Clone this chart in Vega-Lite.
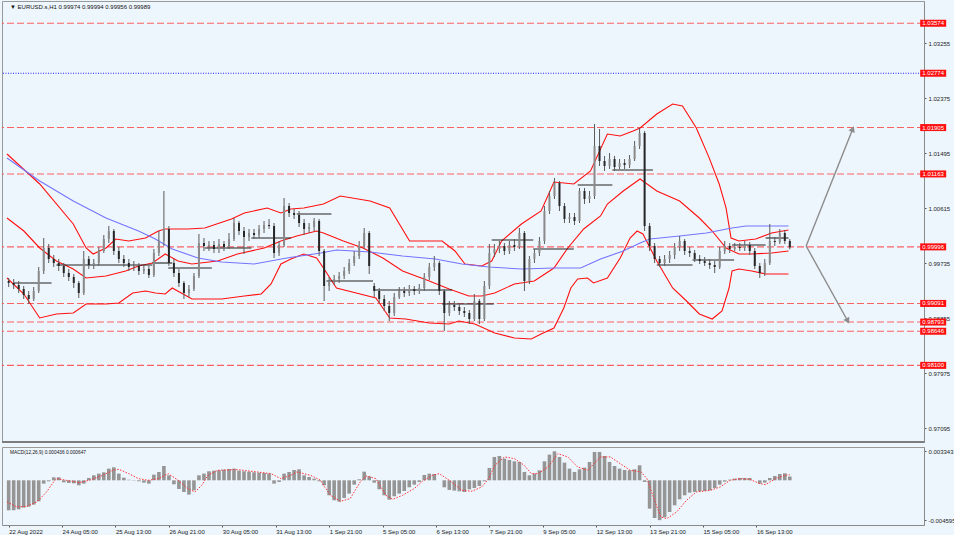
{
"$schema":"https://vega.github.io/schema/vega-lite/v6.json",
"background":"#eef6fd",
"padding":0,
"spacing":2,
"config":{"view":{"stroke":"#9a9a9a","strokeWidth":1},"font":"Liberation Sans","axis":{"labelFont":"Liberation Sans","labelFontSize":6,"labelColor":"#222","domainColor":"#8a8a8a","tickColor":"#555","tickSize":2,"labelPadding":2,"grid":false,"title":null}},
"datasets":{
"candles":[
{"t":0,"o":0.9945,"h":0.99498,"l":0.99354,"c":0.99418,"m":-0.003459},
{"t":3,"o":0.99418,"h":0.99482,"l":0.99322,"c":0.99386,"m":-0.003459},
{"t":6,"o":0.99386,"h":0.9945,"l":0.99258,"c":0.99322,"m":-0.003343},
{"t":9,"o":0.99322,"h":0.9937,"l":0.99162,"c":0.99226,"m":-0.003151},
{"t":12,"o":0.99226,"h":0.9929,"l":0.99082,"c":0.99162,"m":-0.003036},
{"t":15,"o":0.99162,"h":0.99354,"l":0.9913,"c":0.9929,"m":-0.002805},
{"t":18,"o":0.9929,"h":0.99674,"l":0.99258,"c":0.9961,"m":-0.002421},
{"t":21,"o":0.9961,"h":1.00138,"l":0.99562,"c":0.99978,"m":-0.000384},
{"t":24,"o":0.99978,"h":1.00042,"l":0.99738,"c":0.99802,"m":-0.000115},
{"t":27,"o":0.99802,"h":0.99866,"l":0.99674,"c":0.99738,"m":0.000346},
{"t":30,"o":0.99738,"h":0.99802,"l":0.9961,"c":0.9969,"m":0.000346},
{"t":33,"o":0.9969,"h":0.99738,"l":0.99514,"c":0.99578,"m":-0.000231},
{"t":36,"o":0.99578,"h":0.99642,"l":0.9945,"c":0.99514,"m":-0.000307},
{"t":39,"o":0.99514,"h":0.99562,"l":0.99338,"c":0.99418,"m":-0.000346},
{"t":42,"o":0.99418,"h":0.9945,"l":0.99178,"c":0.99258,"m":-0.000576},
{"t":45,"o":0.99258,"h":0.9993,"l":0.99226,"c":0.99802,"m":-0.000384},
{"t":48,"o":0.99802,"h":0.9985,"l":0.99642,"c":0.99706,"m":0.000269},
{"t":51,"o":0.99706,"h":0.99802,"l":0.99642,"c":0.99738,"m":0.000576},
{"t":54,"o":0.99738,"h":0.99994,"l":0.9969,"c":0.9993,"m":0.000769},
{"t":57,"o":0.9993,"h":1.00186,"l":0.99898,"c":1.00122,"m":0.000922},
{"t":60,"o":1.00122,"h":1.0033,"l":1.00058,"c":1.0025,"m":0.001345},
{"t":63,"o":1.0025,"h":1.00282,"l":0.99866,"c":0.9993,"m":0.001499},
{"t":66,"o":0.9993,"h":0.99994,"l":0.99738,"c":0.99802,"m":0.000769},
{"t":69,"o":0.99802,"h":0.99866,"l":0.99674,"c":0.99738,"m":0.000307},
{"t":72,"o":0.99738,"h":0.99802,"l":0.9961,"c":0.99674,"m":0.000077},
{"t":75,"o":0.99674,"h":0.9977,"l":0.9961,"c":0.9969,"m":0.000038},
{"t":78,"o":0.9969,"h":0.99738,"l":0.99546,"c":0.9961,"m":-0.000115},
{"t":81,"o":0.9961,"h":0.99706,"l":0.99562,"c":0.99642,"m":-0.000269},
{"t":84,"o":0.99642,"h":0.9969,"l":0.99498,"c":0.99546,"m":-0.000384},
{"t":87,"o":0.99546,"h":0.99962,"l":0.99514,"c":0.99898,"m":0.000653},
{"t":90,"o":0.99898,"h":1.0025,"l":0.9985,"c":1.0009,"m":0.000961},
{"t":93,"o":1.0009,"h":1.0089,"l":1.0001,"c":1.00282,"m":0.001652},
{"t":96,"o":1.00282,"h":1.0033,"l":0.9969,"c":0.99738,"m":0.000576},
{"t":99,"o":0.99738,"h":0.99802,"l":0.99514,"c":0.99578,"m":-0.000461},
{"t":102,"o":0.99578,"h":0.99642,"l":0.99354,"c":0.99418,"m":-0.000999},
{"t":105,"o":0.99418,"h":0.9945,"l":0.99162,"c":0.99258,"m":-0.001345},
{"t":108,"o":0.99258,"h":0.99386,"l":0.99194,"c":0.99322,"m":-0.001652},
{"t":111,"o":0.99322,"h":0.99578,"l":0.9929,"c":0.9953,"m":-0.001153},
{"t":114,"o":0.9953,"h":1.00202,"l":0.99498,"c":1.00058,"m":0.000576},
{"t":117,"o":1.00058,"h":1.00138,"l":0.9993,"c":1.0001,"m":0.000769},
{"t":120,"o":1.0001,"h":1.0009,"l":0.9993,"c":1.00026,"m":0.001038},
{"t":123,"o":1.00026,"h":1.0009,"l":0.99898,"c":0.99962,"m":0.001114},
{"t":126,"o":0.99962,"h":1.00122,"l":0.99898,"c":1.00042,"m":0.001153},
{"t":129,"o":1.00042,"h":1.0009,"l":0.9993,"c":0.99994,"m":0.00123},
{"t":132,"o":0.99994,"h":1.00218,"l":0.99962,"c":1.00122,"m":0.001307},
{"t":135,"o":1.00122,"h":1.00458,"l":1.0009,"c":1.00378,"m":0.001345},
{"t":138,"o":1.00378,"h":1.0041,"l":1.00186,"c":1.0025,"m":0.001114},
{"t":141,"o":1.0025,"h":1.00314,"l":0.99882,"c":1.00154,"m":0.001038},
{"t":144,"o":1.00154,"h":1.00282,"l":1.0009,"c":1.00218,"m":0.000999},
{"t":147,"o":1.00218,"h":1.00282,"l":1.00122,"c":1.00186,"m":0.000922},
{"t":150,"o":1.00186,"h":1.00346,"l":1.00138,"c":1.00282,"m":0.000884},
{"t":153,"o":1.00282,"h":1.0041,"l":1.00218,"c":1.00346,"m":0.000845},
{"t":156,"o":1.00346,"h":1.00442,"l":1.00282,"c":1.0033,"m":0.000769},
{"t":159,"o":1.0033,"h":1.00378,"l":0.99818,"c":0.99898,"m":-0.000384},
{"t":162,"o":0.99898,"h":1.0009,"l":0.9985,"c":1.00026,"m":-0.000192},
{"t":165,"o":1.00026,"h":1.00778,"l":0.99994,"c":1.0065,"m":0.000769},
{"t":168,"o":1.0065,"h":1.00698,"l":1.00474,"c":1.00538,"m":0.000961},
{"t":171,"o":1.00538,"h":1.00602,"l":1.00442,"c":1.00506,"m":0.001191},
{"t":174,"o":1.00506,"h":1.0057,"l":1.00314,"c":1.00378,"m":0.001268},
{"t":177,"o":1.00378,"h":1.00442,"l":1.00186,"c":1.00282,"m":0.000576},
{"t":180,"o":1.00282,"h":1.00378,"l":1.00218,"c":1.00314,"m":0.000384},
{"t":183,"o":1.00314,"h":1.00458,"l":1.0025,"c":1.0041,"m":0.000192},
{"t":186,"o":1.0041,"h":1.00442,"l":0.9985,"c":0.9993,"m":-0.000115},
{"t":189,"o":0.9993,"h":0.99962,"l":0.9913,"c":0.9937,"m":-0.000576},
{"t":192,"o":0.9937,"h":0.99514,"l":0.9929,"c":0.9945,"m":-0.001729},
{"t":195,"o":0.9945,"h":0.99546,"l":0.99386,"c":0.99482,"m":-0.002306},
{"t":198,"o":0.99482,"h":0.99594,"l":0.99418,"c":0.9953,"m":-0.00246},
{"t":201,"o":0.9953,"h":0.99674,"l":0.99482,"c":0.9961,"m":-0.002037},
{"t":204,"o":0.9961,"h":0.99802,"l":0.99562,"c":0.99738,"m":-0.001537},
{"t":207,"o":0.99738,"h":0.9993,"l":0.9969,"c":0.9985,"m":-0.0005},
{"t":210,"o":0.9985,"h":1.0009,"l":0.99802,"c":1.0001,"m":0.000115},
{"t":213,"o":1.0001,"h":1.00298,"l":0.99962,"c":1.00218,"m":0.000999},
{"t":216,"o":1.00218,"h":1.0025,"l":0.99562,"c":0.9969,"m":0.000461},
{"t":219,"o":0.9937,"h":0.99418,"l":0.99194,"c":0.9929,"m":-0.000269},
{"t":222,"o":0.9929,"h":0.99338,"l":0.99098,"c":0.99162,"m":-0.001038},
{"t":225,"o":0.99162,"h":0.99226,"l":0.9897,"c":0.9905,"m":-0.001729},
{"t":228,"o":0.9905,"h":0.9913,"l":0.9881,"c":0.98938,"m":-0.002229},
{"t":231,"o":0.98938,"h":0.99258,"l":0.9889,"c":0.99194,"m":-0.001845},
{"t":234,"o":0.99194,"h":0.99354,"l":0.99162,"c":0.9929,"m":-0.001537},
{"t":237,"o":0.9929,"h":0.99354,"l":0.99194,"c":0.99258,"m":-0.00123},
{"t":240,"o":0.99258,"h":0.99386,"l":0.9921,"c":0.99322,"m":-0.000807},
{"t":243,"o":0.99322,"h":0.9937,"l":0.99226,"c":0.9929,"m":-0.0005},
{"t":246,"o":0.9929,"h":0.99402,"l":0.99242,"c":0.99338,"m":-0.000192},
{"t":249,"o":0.99338,"h":0.99578,"l":0.9929,"c":0.99514,"m":0.000615},
{"t":252,"o":0.99514,"h":0.99738,"l":0.99466,"c":0.99674,"m":0.000769},
{"t":255,"o":0.99674,"h":0.9985,"l":0.9961,"c":0.99738,"m":0.00073},
{"t":258,"o":0.99738,"h":0.9977,"l":0.99226,"c":0.9929,"m":0.0},
{"t":261,"o":0.9929,"h":0.99322,"l":0.9865,"c":0.98938,"m":-0.000807},
{"t":264,"o":0.98938,"h":0.9913,"l":0.9889,"c":0.99066,"m":-0.001114},
{"t":267,"o":0.99066,"h":0.9913,"l":0.9897,"c":0.99034,"m":-0.001191},
{"t":270,"o":0.99034,"h":0.99082,"l":0.98906,"c":0.9897,"m":-0.001268},
{"t":273,"o":0.9897,"h":0.99034,"l":0.98874,"c":0.98938,"m":-0.001345},
{"t":276,"o":0.98938,"h":0.98986,"l":0.98762,"c":0.98842,"m":-0.001038},
{"t":279,"o":0.98842,"h":0.99242,"l":0.9881,"c":0.9913,"m":-0.000884},
{"t":282,"o":0.9913,"h":0.99162,"l":0.98762,"c":0.98842,"m":-0.000653},
{"t":285,"o":0.98842,"h":0.9945,"l":0.9881,"c":0.9937,"m":-0.000115},
{"t":288,"o":0.9937,"h":1.00042,"l":0.99322,"c":0.99898,"m":0.001422},
{"t":291,"o":0.99898,"h":1.00042,"l":0.99834,"c":0.99962,"m":0.00269},
{"t":294,"o":0.99962,"h":1.0009,"l":0.99898,"c":1.0001,"m":0.002805},
{"t":297,"o":1.0001,"h":1.00058,"l":0.99866,"c":0.9993,"m":0.002498},
{"t":300,"o":0.9993,"h":1.0009,"l":0.99882,"c":1.00026,"m":0.002344},
{"t":303,"o":1.00026,"h":1.00122,"l":0.9993,"c":0.99994,"m":0.00219},
{"t":306,"o":0.99994,"h":1.00298,"l":0.99962,"c":1.00218,"m":0.002114},
{"t":309,"o":1.00218,"h":1.0025,"l":0.9929,"c":0.9945,"m":0.000961},
{"t":312,"o":0.9945,"h":0.9985,"l":0.99402,"c":0.99802,"m":0.000576},
{"t":315,"o":0.99802,"h":0.99962,"l":0.99738,"c":0.99898,"m":0.000769},
{"t":318,"o":0.99898,"h":1.00154,"l":0.9985,"c":1.0009,"m":0.001153},
{"t":321,"o":1.0009,"h":1.0065,"l":1.00042,"c":1.0057,"m":0.00219},
{"t":324,"o":1.0057,"h":1.0089,"l":1.00522,"c":1.0081,"m":0.002959},
{"t":327,"o":1.0081,"h":1.01098,"l":1.00762,"c":1.01018,"m":0.003343},
{"t":330,"o":1.01018,"h":1.0105,"l":1.0057,"c":1.0065,"m":0.00269},
{"t":333,"o":1.0065,"h":1.00698,"l":1.00378,"c":1.00442,"m":0.002037},
{"t":336,"o":1.00442,"h":1.00538,"l":1.00378,"c":1.00474,"m":0.001345},
{"t":339,"o":1.00474,"h":1.00538,"l":1.00346,"c":1.0041,"m":0.000961},
{"t":342,"o":1.0041,"h":1.00938,"l":1.00378,"c":1.0089,"m":0.001268},
{"t":345,"o":1.0089,"h":1.00938,"l":1.00682,"c":1.00762,"m":0.00146},
{"t":348,"o":1.00762,"h":1.0089,"l":1.00698,"c":1.0081,"m":0.002114},
{"t":351,"o":1.0081,"h":1.01962,"l":1.00762,"c":1.0161,"m":0.003267},
{"t":354,"o":1.0161,"h":1.01882,"l":1.0129,"c":1.0137,"m":0.003267},
{"t":357,"o":1.0137,"h":1.0145,"l":1.0121,"c":1.0129,"m":0.002805},
{"t":360,"o":1.0129,"h":1.01498,"l":1.01242,"c":1.01402,"m":0.002114},
{"t":363,"o":1.01402,"h":1.0145,"l":1.0121,"c":1.01274,"m":0.001652},
{"t":366,"o":1.01274,"h":1.01402,"l":1.01242,"c":1.01338,"m":0.001345},
{"t":369,"o":1.01338,"h":1.01402,"l":1.01242,"c":1.01306,"m":0.001191},
{"t":372,"o":1.01306,"h":1.01466,"l":1.01258,"c":1.01402,"m":0.001153},
{"t":375,"o":1.01402,"h":1.0169,"l":1.0137,"c":1.0161,"m":0.001268},
{"t":378,"o":1.0161,"h":1.01898,"l":1.01562,"c":1.01818,"m":0.001729},
{"t":381,"o":1.01818,"h":1.0185,"l":1.0025,"c":1.0033,"m":-0.000192},
{"t":384,"o":1.0033,"h":1.00378,"l":0.9993,"c":1.0001,"m":-0.003267},
{"t":387,"o":1.0001,"h":1.00058,"l":0.99738,"c":0.99802,"m":-0.004343},
{"t":390,"o":0.99802,"h":0.9985,"l":0.99674,"c":0.99738,"m":-0.004595},
{"t":393,"o":0.99738,"h":0.99866,"l":0.9969,"c":0.99802,"m":-0.004266},
{"t":396,"o":0.99802,"h":0.9993,"l":0.99738,"c":0.99866,"m":-0.003651},
{"t":399,"o":0.99866,"h":1.00058,"l":0.99802,"c":0.99994,"m":-0.002882},
{"t":402,"o":0.99994,"h":1.0017,"l":0.9993,"c":1.0009,"m":-0.00219},
{"t":405,"o":1.0009,"h":1.00122,"l":0.99866,"c":0.9993,"m":-0.001729},
{"t":408,"o":0.9993,"h":0.99994,"l":0.99834,"c":0.99898,"m":-0.001422},
{"t":411,"o":0.99898,"h":0.99946,"l":0.99754,"c":0.99802,"m":-0.001345},
{"t":414,"o":0.99802,"h":0.99866,"l":0.99722,"c":0.9977,"m":-0.001268},
{"t":417,"o":0.9977,"h":0.99834,"l":0.9969,"c":0.99738,"m":-0.00123},
{"t":420,"o":0.99738,"h":0.99802,"l":0.99642,"c":0.99706,"m":-0.001153},
{"t":423,"o":0.99706,"h":0.9977,"l":0.99578,"c":0.99674,"m":-0.000884},
{"t":426,"o":0.99674,"h":0.99994,"l":0.99642,"c":0.9993,"m":-0.0005},
{"t":429,"o":0.9993,"h":1.0009,"l":0.99882,"c":1.0001,"m":-0.000154},
{"t":432,"o":1.0001,"h":1.00058,"l":0.99898,"c":0.99962,"m":0.000077},
{"t":435,"o":0.99962,"h":1.00058,"l":0.9993,"c":0.99994,"m":0.000192},
{"t":438,"o":0.99994,"h":1.00058,"l":0.9993,"c":0.99978,"m":0.000269},
{"t":441,"o":0.99978,"h":1.0009,"l":0.9993,"c":1.00026,"m":0.000269},
{"t":444,"o":1.00026,"h":1.00074,"l":0.99866,"c":0.9993,"m":0.000269},
{"t":447,"o":0.9993,"h":0.99978,"l":0.99642,"c":0.9969,"m":0.0},
{"t":450,"o":0.9969,"h":0.99738,"l":0.99498,"c":0.99578,"m":-0.000384},
{"t":453,"o":0.99578,"h":0.99802,"l":0.9953,"c":0.99738,"m":-0.000269},
{"t":456,"o":0.99738,"h":1.00362,"l":0.99706,"c":1.0009,"m":0.000269},
{"t":459,"o":1.0009,"h":1.00154,"l":1.0001,"c":1.00074,"m":0.0005},
{"t":462,"o":1.00074,"h":1.00282,"l":1.00042,"c":1.00218,"m":0.00073},
{"t":465,"o":1.00218,"h":1.00266,"l":1.00042,"c":1.0009,"m":0.000807},
{"t":468,"o":1.0009,"h":1.00122,"l":0.99956,"c":0.99989,"m":0.000436}
],
"bands":[
{"s":"up","t":-1,"p":1.01482},{"s":"up","t":18.6,"p":1.01002},{"s":"up","t":38.7,"p":1.00362},{"s":"up","t":46.4,"p":0.99978},{"s":"up","t":50.6,"p":0.99882},{"s":"up","t":58.3,"p":0.99978},{"s":"up","t":64.2,"p":1.00122},{"s":"up","t":71.9,"p":1.0009},{"s":"up","t":82,"p":1.00138},{"s":"up","t":89.7,"p":1.0025},{"s":"up","t":93.8,"p":1.00282},{"s":"up","t":107.4,"p":1.00282},{"s":"up","t":117.5,"p":1.00298},{"s":"up","t":133.5,"p":1.00442},{"s":"up","t":141.2,"p":1.00538},{"s":"up","t":154.9,"p":1.00618},{"s":"up","t":163.1,"p":1.00538},{"s":"up","t":169.1,"p":1.00602},{"s":"up","t":176.8,"p":1.00618},{"s":"up","t":188.6,"p":1.00682},{"s":"up","t":198.7,"p":1.0081},{"s":"up","t":216.5,"p":1.0073},{"s":"up","t":228.3,"p":1.00618},{"s":"up","t":240.2,"p":1.0009},{"s":"up","t":259.7,"p":1.0009},{"s":"up","t":267.4,"p":0.9993},{"s":"up","t":273.4,"p":0.99722},{"s":"up","t":283.4,"p":0.9969},{"s":"up","t":289.4,"p":0.9977},{"s":"up","t":295.3,"p":1.0009},{"s":"up","t":307.2,"p":1.00362},{"s":"up","t":319,"p":1.0057},{"s":"up","t":326.7,"p":1.01034},{"s":"up","t":338.6,"p":1.01002},{"s":"up","t":348.6,"p":1.0121},{"s":"up","t":358.7,"p":1.01802},{"s":"up","t":366.4,"p":1.0177},{"s":"up","t":374.1,"p":1.0185},{"s":"up","t":378.3,"p":1.01898},{"s":"up","t":388.3,"p":1.02122},{"s":"up","t":397.8,"p":1.02282},{"s":"up","t":403.7,"p":1.0225},{"s":"up","t":412,"p":1.01898},{"s":"up","t":419.7,"p":1.0142},{"s":"up","t":425.7,"p":1.01002},{"s":"up","t":429.8,"p":1.0062},{"s":"up","t":432.8,"p":1.00138},{"s":"up","t":437.5,"p":1.0009},{"s":"up","t":447.6,"p":1.00122},{"s":"up","t":457.1,"p":1.00218},{"s":"up","t":467.2,"p":1.00266},
{"s":"mid","t":-1,"p":1.00458},{"s":"mid","t":9.1,"p":1.0025},{"s":"mid","t":18.6,"p":0.99978},{"s":"mid","t":28.6,"p":0.9977},{"s":"mid","t":38.7,"p":0.99642},{"s":"mid","t":46.4,"p":0.99498},{"s":"mid","t":58.3,"p":0.9953},{"s":"mid","t":70.1,"p":0.9961},{"s":"mid","t":77.8,"p":0.9969},{"s":"mid","t":86.1,"p":0.99738},{"s":"mid","t":93.8,"p":0.99882},{"s":"mid","t":101.5,"p":0.9977},{"s":"mid","t":109.8,"p":0.99722},{"s":"mid","t":125.2,"p":0.9977},{"s":"mid","t":137.1,"p":0.99882},{"s":"mid","t":153.1,"p":0.99978},{"s":"mid","t":163.1,"p":1.0009},{"s":"mid","t":172.6,"p":1.0017},{"s":"mid","t":184.5,"p":1.0025},{"s":"mid","t":188.6,"p":1.00218},{"s":"mid","t":200.5,"p":1.0009},{"s":"mid","t":212.3,"p":0.99978},{"s":"mid","t":224.2,"p":0.99818},{"s":"mid","t":236,"p":0.9961},{"s":"mid","t":252,"p":0.9945},{"s":"mid","t":263.9,"p":0.99322},{"s":"mid","t":275.7,"p":0.9921},{"s":"mid","t":283.4,"p":0.9921},{"s":"mid","t":291.2,"p":0.99258},{"s":"mid","t":303,"p":0.99402},{"s":"mid","t":314.9,"p":0.9945},{"s":"mid","t":326.7,"p":0.99658},{"s":"mid","t":335,"p":0.99978},{"s":"mid","t":344.5,"p":1.00282},{"s":"mid","t":354.6,"p":1.0049},{"s":"mid","t":358.7,"p":1.00682},{"s":"mid","t":368.2,"p":1.0089},{"s":"mid","t":378.3,"p":1.01082},{"s":"mid","t":388.3,"p":1.0089},{"s":"mid","t":402,"p":1.0073},{"s":"mid","t":413.8,"p":1.00458},{"s":"mid","t":421.5,"p":1.0025},{"s":"mid","t":429.8,"p":0.99978},{"s":"mid","t":437.5,"p":0.99882},{"s":"mid","t":445.2,"p":0.99882},{"s":"mid","t":457.1,"p":0.99898},{"s":"mid","t":467.2,"p":0.9993},
{"s":"lo","t":-1,"p":0.99498},{"s":"lo","t":9.1,"p":0.99242},{"s":"lo","t":18.6,"p":0.98858},{"s":"lo","t":28.6,"p":0.98922},{"s":"lo","t":38.7,"p":0.98938},{"s":"lo","t":46.4,"p":0.99082},{"s":"lo","t":58.3,"p":0.99082},{"s":"lo","t":66,"p":0.99098},{"s":"lo","t":74.3,"p":0.99258},{"s":"lo","t":82,"p":0.9929},{"s":"lo","t":87.9,"p":0.99258},{"s":"lo","t":93.8,"p":0.99242},{"s":"lo","t":98,"p":0.99338},{"s":"lo","t":109.8,"p":0.99162},{"s":"lo","t":127.6,"p":0.99162},{"s":"lo","t":141.2,"p":0.9921},{"s":"lo","t":151.3,"p":0.99242},{"s":"lo","t":157.2,"p":0.99402},{"s":"lo","t":163.1,"p":0.99722},{"s":"lo","t":169.1,"p":0.99802},{"s":"lo","t":176.8,"p":0.99882},{"s":"lo","t":184.5,"p":0.99818},{"s":"lo","t":188.6,"p":0.99658},{"s":"lo","t":196.4,"p":0.99338},{"s":"lo","t":208.2,"p":0.99258},{"s":"lo","t":220,"p":0.99178},{"s":"lo","t":228.3,"p":0.98858},{"s":"lo","t":237.8,"p":0.98842},{"s":"lo","t":252,"p":0.98778},{"s":"lo","t":263.9,"p":0.98762},{"s":"lo","t":269.8,"p":0.9881},{"s":"lo","t":279.3,"p":0.98762},{"s":"lo","t":291.2,"p":0.98618},{"s":"lo","t":303,"p":0.98538},{"s":"lo","t":313.1,"p":0.98522},{"s":"lo","t":319,"p":0.98602},{"s":"lo","t":326.7,"p":0.98698},{"s":"lo","t":332.6,"p":0.99018},{"s":"lo","t":336.8,"p":0.99338},{"s":"lo","t":340.9,"p":0.99482},{"s":"lo","t":346.8,"p":0.99498},{"s":"lo","t":350.4,"p":0.99418},{"s":"lo","t":358.7,"p":0.99498},{"s":"lo","t":366.4,"p":0.99818},{"s":"lo","t":372.3,"p":1.00138},{"s":"lo","t":376.5,"p":1.0025},{"s":"lo","t":380,"p":1.00202},{"s":"lo","t":388.3,"p":0.9977},{"s":"lo","t":397.8,"p":0.99338},{"s":"lo","t":406.1,"p":0.9913},{"s":"lo","t":413.8,"p":0.98922},{"s":"lo","t":421.5,"p":0.98842},{"s":"lo","t":427.4,"p":0.9897},{"s":"lo","t":431.6,"p":0.99338},{"s":"lo","t":433.4,"p":0.9961},{"s":"lo","t":437.5,"p":0.99642},{"s":"lo","t":445.2,"p":0.9961},{"s":"lo","t":453.5,"p":0.99562},{"s":"lo","t":467.2,"p":0.99562},
{"s":"ma","t":-1,"p":1.01418},{"s":"ma","t":18.6,"p":1.0105},{"s":"ma","t":38.7,"p":1.0073},{"s":"ma","t":58.3,"p":1.00458},{"s":"ma","t":77.8,"p":1.0025},{"s":"ma","t":87.9,"p":1.00122},{"s":"ma","t":98,"p":0.99962},{"s":"ma","t":113.4,"p":0.99818},{"s":"ma","t":127.6,"p":0.99754},{"s":"ma","t":147.1,"p":0.99722},{"s":"ma","t":166.7,"p":0.99818},{"s":"ma","t":186.9,"p":0.99898},{"s":"ma","t":196.4,"p":0.99946},{"s":"ma","t":216.5,"p":0.99914},{"s":"ma","t":236,"p":0.9985},{"s":"ma","t":255.6,"p":0.99802},{"s":"ma","t":271.6,"p":0.99722},{"s":"ma","t":287.6,"p":0.99674},{"s":"ma","t":307.2,"p":0.99642},{"s":"ma","t":326.7,"p":0.99658},{"s":"ma","t":342.7,"p":0.99658},{"s":"ma","t":354.6,"p":0.99802},{"s":"ma","t":368.2,"p":0.9993},{"s":"ma","t":378.3,"p":1.00058},{"s":"ma","t":384.2,"p":1.00122},{"s":"ma","t":402,"p":1.0017},{"s":"ma","t":418,"p":1.00218},{"s":"ma","t":433.4,"p":1.00298},{"s":"ma","t":441.7,"p":1.0033},{"s":"ma","t":467.2,"p":1.0033}
],
"segs":[
{"t1":3.1,"t2":25.7,"p":0.99418},{"t1":28.6,"t2":86.1,"p":0.99706},{"t1":86.1,"t2":98,"p":0.99738},{"t1":95.6,"t2":121.7,"p":0.99658},{"t1":117.5,"t2":145.4,"p":0.99978},{"t1":145.4,"t2":169.1,"p":1.00138},{"t1":172.6,"t2":193.4,"p":1.00522},{"t1":190.4,"t2":218.3,"p":0.9945},{"t1":219.4,"t2":265.7,"p":0.99306},{"t1":259.7,"t2":290.6,"p":0.99082},{"t1":289.4,"t2":314.3,"p":1.00106},{"t1":314.3,"t2":338.6,"p":0.99962},{"t1":340.9,"t2":361.7,"p":1.00986},{"t1":361.7,"t2":386,"p":1.01226},{"t1":388.3,"t2":409.7,"p":0.99706},{"t1":409.7,"t2":434.6,"p":0.99786},{"t1":433.4,"t2":453.5,"p":1.00026},{"t1":453.5,"t2":467.2,"p":1.00138}
],
"levels":[
{"p":1.03574,"k":"r"},{"p":1.02774,"k":"b"},{"p":1.01905,"k":"r"},{"p":1.01163,"k":"r"},{"p":0.99996,"k":"r"},{"p":0.99091,"k":"r"},{"p":0.98793,"k":"r"},{"p":0.98646,"k":"r"},{"p":0.981,"k":"r"}
],
"arrows":[
{"g":"u","t":477.8,"p":1.0001},{"g":"u","t":505.7,"p":1.01882},{"g":"d","t":477.8,"p":1.0001},{"g":"d","t":502.7,"p":0.9881}
],
"signal":[
{"t":-1,"s":-0.002498},{"t":4.9,"s":-0.003074},{"t":10.9,"s":-0.002998},{"t":16.8,"s":-0.002498},{"t":22.7,"s":-0.001345},{"t":26.9,"s":-0.000192},{"t":28.6,"s":0.000192},{"t":34.6,"s":0},{"t":42.3,"s":-0.000269},{"t":48.2,"s":0},{"t":56.5,"s":0.000576},{"t":62.4,"s":0.001153},{"t":66,"s":0.001268},{"t":71.9,"s":0.000769},{"t":77.8,"s":0.000192},{"t":83.7,"s":0},{"t":89.7,"s":0.000192},{"t":95.6,"s":0.000769},{"t":101.5,"s":0},{"t":107.4,"s":-0.000961},{"t":111.6,"s":-0.001345},{"t":115.7,"s":-0.000576},{"t":119.3,"s":0.000576},{"t":125.2,"s":0.001153},{"t":137.1,"s":0.00123},{"t":148.9,"s":0.000961},{"t":157.2,"s":0.000769},{"t":163.1,"s":0.000192},{"t":169.1,"s":0.000576},{"t":172.6,"s":0.000961},{"t":180.9,"s":0.000576},{"t":186.9,"s":0},{"t":188.6,"s":-0.000576},{"t":192.8,"s":-0.001729},{"t":198.7,"s":-0.002421},{"t":204.6,"s":-0.002114},{"t":210.6,"s":-0.000192},{"t":214.1,"s":0.0005},{"t":220,"s":0.000192},{"t":226,"s":-0.001729},{"t":230.1,"s":-0.00219},{"t":236,"s":-0.001729},{"t":243,"s":-0.000961},{"t":247.9,"s":-0.000115},{"t":253.8,"s":0.000576},{"t":258,"s":0.000769},{"t":263.9,"s":0},{"t":271.6,"s":-0.001153},{"t":277.5,"s":-0.001268},{"t":283.4,"s":-0.000769},{"t":287.6,"s":0.000192},{"t":291.2,"s":0.001729},{"t":297.1,"s":0.00269},{"t":303,"s":0.002498},{"t":308.9,"s":0.001729},{"t":313.1,"s":0.000769},{"t":317.2,"s":0.000769},{"t":323.2,"s":0.001537},{"t":329.1,"s":0.003074},{"t":335,"s":0.00269},{"t":340.9,"s":0.001537},{"t":346.8,"s":0.001153},{"t":354.6,"s":0.00269},{"t":360.5,"s":0.00269},{"t":366.4,"s":0.001922},{"t":372.3,"s":0.001153},{"t":378.9,"s":0.000961},{"t":382.4,"s":0.000192},{"t":386.6,"s":-0.002114},{"t":390.7,"s":-0.004227},{"t":394.3,"s":-0.00442},{"t":400.2,"s":-0.003651},{"t":406.1,"s":-0.002306},{"t":412,"s":-0.001345},{"t":420.3,"s":-0.001153},{"t":426.3,"s":-0.000769},{"t":432.2,"s":0},{"t":438.1,"s":0.000192},{"t":444,"s":0.000115},{"t":450,"s":-0.000384},{"t":453.5,"s":-0.0005},{"t":459.4,"s":0.000192},{"t":465.4,"s":0.000576},{"t":468,"s":0.000647}
]
},
"vconcat":[
{
"width":922,"height":441,
"layer":[
{"data":{"name":"levels"},"transform":[{"filter":"datum.k == 'r'"}],"mark":{"type":"rule","stroke":"#ff4848","strokeOpacity":0.85,"strokeWidth":1.1,"strokeDash":[7,3]},
 "encoding":{"y":{"field":"p","type":"quantitative","scale":{"domain":[0.96874,1.0393],"nice":false,"zero":false},
  "axis":{"orient":"right","values":[1.03695,1.03255,1.02815,1.02375,1.01935,1.01495,1.01055,1.00615,1.00175,0.99735,0.99295,0.98855,0.98415,0.97975,0.97535,0.97095],"format":".5f"}}}},
{"data":{"name":"levels"},"transform":[{"filter":"datum.k == 'b'"}],"mark":{"type":"rule","stroke":"#2626ff","strokeWidth":1.1,"strokeDash":[1,1.5]},
 "encoding":{"y":{"field":"p","type":"quantitative"}}},
{"data":{"name":"bands"},"mark":{"type":"line","strokeWidth":1.1},
 "encoding":{"x":{"field":"t","type":"quantitative","scale":{"domain":[-1,545.4],"nice":false,"zero":false},"axis":null},
  "y":{"field":"p","type":"quantitative"},"detail":{"field":"s"},"order":{"field":"t"},
  "color":{"field":"s","type":"nominal","scale":{"domain":["up","mid","lo","ma"],"range":["#ff1010","#ff1010","#ff1010","#7474ff"]},"legend":null}}},
{"data":{"name":"segs"},"mark":{"type":"rule","color":"#222","strokeWidth":1.1},
 "encoding":{"x":{"field":"t1","type":"quantitative"},"x2":{"field":"t2"},"y":{"field":"p","type":"quantitative"}}},
{"data":{"name":"candles"},"mark":{"type":"rule","color":"#5a5a5a","strokeWidth":1},
 "encoding":{"x":{"field":"t","type":"quantitative"},"y":{"field":"l","type":"quantitative"},"y2":{"field":"h"}}},
{"data":{"name":"candles"},"mark":{"type":"bar","width":2},
 "encoding":{"x":{"field":"t","type":"quantitative"},"y":{"field":"o","type":"quantitative"},"y2":{"field":"c"},
  "color":{"condition":{"test":"datum.o > datum.c","value":"#262626"},"value":"#8a8a8a"}}},
{"data":{"name":"arrows"},"mark":{"type":"line","color":"#8c8c8c","strokeWidth":1.4},
 "encoding":{"x":{"field":"t","type":"quantitative"},"y":{"field":"p","type":"quantitative"},"detail":{"field":"g"}}},
{"data":{"values":[{"t":505.7,"p":1.01882}]},"mark":{"type":"point","shape":"triangle-up","angle":22,"size":45,"filled":true,"color":"#8c8c8c","opacity":1},
 "encoding":{"x":{"field":"t","type":"quantitative"},"y":{"field":"p","type":"quantitative"}}},
{"data":{"values":[{"t":502.7,"p":0.9881}]},"mark":{"type":"point","shape":"triangle-down","angle":-29,"size":45,"filled":true,"color":"#8c8c8c","opacity":1},
 "encoding":{"x":{"field":"t","type":"quantitative"},"y":{"field":"p","type":"quantitative"}}},
{"data":{"name":"levels"},"mark":{"type":"point","shape":"M-1,-0.27H1V0.27H-1Z","size":676,"filled":true,"opacity":1,"strokeWidth":0},
 "encoding":{"x":{"datum":553.9},"y":{"field":"p","type":"quantitative"},
  "color":{"field":"k","type":"nominal","scale":{"domain":["r","b"],"range":["#ff0000","#0000ff"]},"legend":null}}},
{"data":{"name":"levels"},"mark":{"type":"text","color":"#ffffff","fontSize":6,"align":"center","baseline":"middle"},
 "encoding":{"x":{"datum":553.9},"y":{"field":"p","type":"quantitative"},"text":{"field":"p","type":"quantitative","format":".5f"}}},
{"data":{"values":[{}]},"mark":{"type":"text","color":"#111","fontSize":6,"align":"left","baseline":"middle"},
 "encoding":{"x":{"datum":0.8},"y":{"datum":1.0384},"text":{"value":"▼  EURUSD.s,H1  0.99974 0.99994 0.99956 0.99989"}}},
{"data":{"values":[{}]},"mark":{"type":"rule","color":"#7d7d7d","strokeWidth":2},
 "encoding":{"y":{"datum":0.96876}}}
]
},
{
"width":922,"height":78,
"layer":[
{"data":{"name":"candles"},"mark":{"type":"bar","width":3.6,"color":"#959595"},
 "encoding":{"x":{"field":"t","type":"quantitative","scale":{"domain":[-1,545.4],"nice":false,"zero":false},
   "axis":{"values":[0,32,64,96,128,160,192,224,256,288,320,352,384,416,448],"labelAlign":"left","tickSize":2,"labelPadding":1,"labelOverlap":false,
   "labelExpr":"['22 Aug 2022','24 Aug 05:00','25 Aug 13:00','26 Aug 21:00','30 Aug 05:00','31 Aug 13:00','1 Sep 21:00','5 Sep 05:00','6 Sep 13:00','7 Sep 21:00','9 Sep 05:00','12 Sep 13:00','13 Sep 21:00','15 Sep 05:00','16 Sep 13:00'][round(datum.value/32)]"}},
  "y":{"field":"m","type":"quantitative","scale":{"domain":[-0.005153,0.003839],"nice":false,"zero":false},
   "axis":{"orient":"right","values":[0.003343,0,-0.004595],"labelExpr":"datum.value == 0 ? '0.00' : (datum.value > 0 ? '0.003343' : '-0.004595')"}},
  "y2":{"datum":0}}},
{"data":{"name":"signal"},"mark":{"type":"line","color":"#ff3030","strokeWidth":1,"strokeDash":[1.5,1.5]},
 "encoding":{"x":{"field":"t","type":"quantitative"},"y":{"field":"s","type":"quantitative"}}},
{"data":{"values":[{}]},"mark":{"type":"text","color":"#111","fontSize":4.8,"align":"left","baseline":"middle"},
 "encoding":{"x":{"datum":0.8},"y":{"datum":0.003147},"text":{"value":"MACD(12,26,9) 0.000436 0.000647"}}}
]
}
]
}
